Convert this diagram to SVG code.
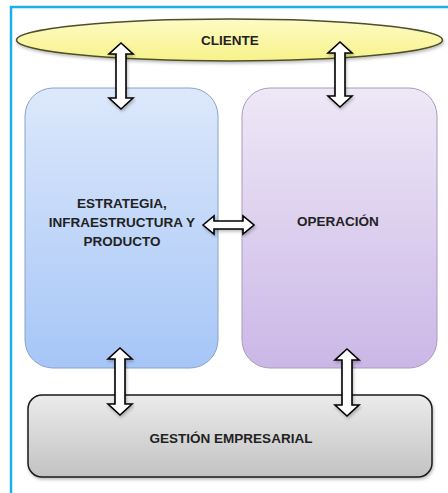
<svg xmlns="http://www.w3.org/2000/svg" width="448" height="493" viewBox="0 0 448 493">
  <defs>
    <linearGradient id="gClient" x1="0" y1="0" x2="0" y2="1">
      <stop offset="0" stop-color="#FDFBC4"/>
      <stop offset="1" stop-color="#F8F28A"/>
    </linearGradient>
    <linearGradient id="gStrategy" x1="0" y1="0" x2="0" y2="1">
      <stop offset="0" stop-color="#DDE8FB"/>
      <stop offset="1" stop-color="#A6C6F7"/>
    </linearGradient>
    <linearGradient id="gOperation" x1="0" y1="0" x2="0" y2="1">
      <stop offset="0" stop-color="#EEE8F6"/>
      <stop offset="1" stop-color="#CBB7E7"/>
    </linearGradient>
    <linearGradient id="gManagement" x1="0" y1="0" x2="0" y2="1">
      <stop offset="0" stop-color="#EBEBEB"/>
      <stop offset="1" stop-color="#C2C2C2"/>
    </linearGradient>
    <filter id="shadow" x="-10%" y="-10%" width="120%" height="130%">
      <feDropShadow dx="1" dy="2" stdDeviation="1.5" flood-color="#000" flood-opacity="0.25"/>
    </filter>
  </defs>
  <style>
    .label { font-family: "Liberation Sans", Arial, sans-serif; font-weight: bold; font-size: 13.5px; fill: #222222; text-anchor: middle; }
    .arrow { fill: #FFFFFF; stroke: #000000; stroke-width: 1.6; stroke-linejoin: miter; filter: url(#shadow); }
  </style>

  <rect width="448" height="493" fill="#FFFFFF"/>

  <!-- frame (top and left edges) -->
  <path d="M11,493 L11,7 L448,7" fill="none" stroke="#1AAEF0" stroke-width="2.5"/>

  <g id="cliente">
    <ellipse cx="229.5" cy="40" rx="213" ry="21" fill="url(#gClient)" stroke="#4F4F2C" stroke-width="1.5" filter="url(#shadow)"/>
    <text class="label" x="230" y="45">CLIENTE</text>
  </g>

  <g id="estrategia">
    <rect x="25" y="88" width="193" height="280" rx="28" ry="28" fill="url(#gStrategy)" stroke="#8AA3C4" stroke-width="1"/>
    <text class="label" x="122" y="208">ESTRATEGIA,</text>
    <text class="label" x="122" y="227">INFRAESTRUCTURA Y</text>
    <text class="label" x="122" y="246">PRODUCTO</text>
  </g>

  <g id="operacion">
    <rect x="242" y="88" width="195" height="280" rx="28" ry="28" fill="url(#gOperation)" stroke="#A89BBB" stroke-width="1"/>
    <text class="label" x="338" y="226">OPERACIÓN</text>
  </g>

  <g id="gestion">
    <rect x="28" y="395" width="404" height="82" rx="14" ry="14" fill="url(#gManagement)" stroke="#1A1A1A" stroke-width="1.5" filter="url(#shadow)"/>
    <text class="label" x="231" y="443">GESTIÓN EMPRESARIAL</text>
  </g>

  <g id="connectors">
    <path class="arrow" d="M121,43 L133,54 L126,54 L126,98 L133,98 L121,109 L109,98 L116,98 L116,54 L109,54 Z"/>
    <path class="arrow" d="M340,42 L352,53 L345,53 L345,96 L352,96 L340,107 L328,96 L335,96 L335,53 L328,53 Z"/>
    <path class="arrow" d="M203,225 L214,216 L214,221 L243,221 L243,216 L254,225 L243,234 L243,229 L214,229 L214,234 Z"/>
    <path class="arrow" d="M120,348 L132,359 L125,359 L125,404 L132,404 L120,415 L108,404 L115,404 L115,359 L108,359 Z"/>
    <path class="arrow" d="M347,349 L359,360 L352,360 L352,405 L359,405 L347,416 L335,405 L342,405 L342,360 L335,360 Z"/>
  </g>
</svg>
